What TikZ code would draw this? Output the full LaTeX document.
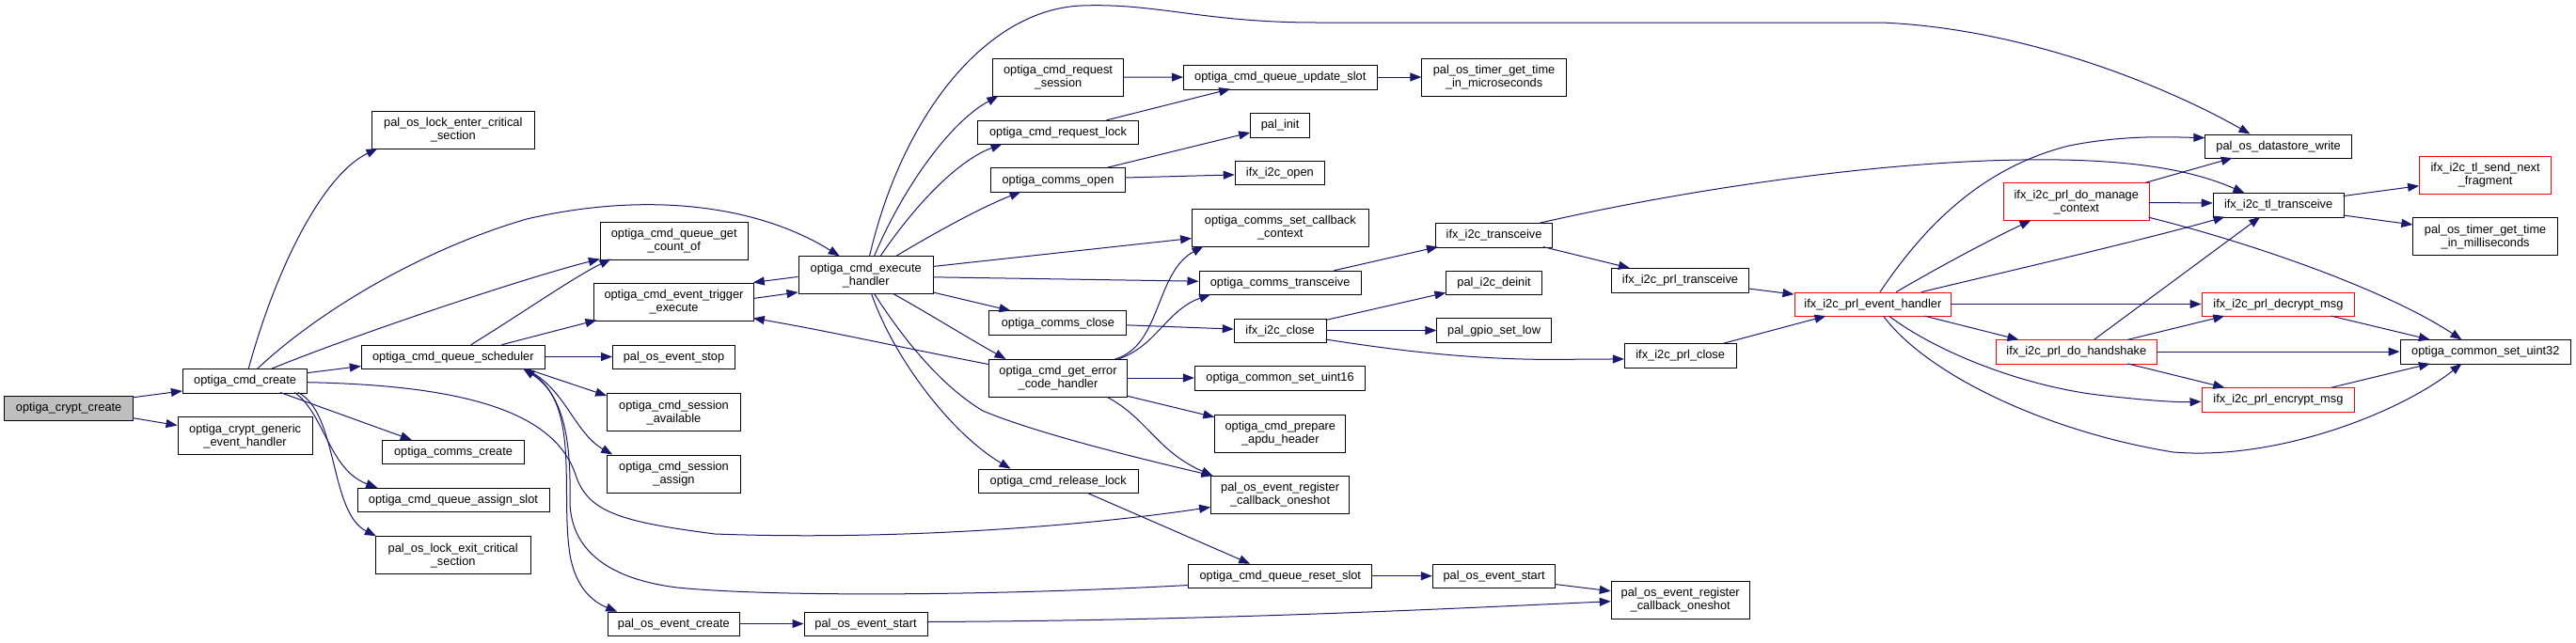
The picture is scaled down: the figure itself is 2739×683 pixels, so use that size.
\documentclass[tikz,border=0pt]{standalone}
\usepackage{fontspec}
\setmainfont{Liberation Sans}
\usetikzlibrary{arrows.meta}
\definecolor{edgec}{HTML}{191970}
\definecolor{grayfill}{HTML}{BFBFBF}
\tikzset{
  box/.style={draw=black, line width=1pt, fill=white, inner sep=0pt, align=center,
    minimum height=25.5pt, font=\fontsize{12.8}{14}\selectfont},
  tall/.style={minimum height=40pt},
  redb/.style={draw=red},
  edge/.style={draw=edgec, line width=1pt, -{Triangle[length=12pt,width=9pt]}}
}
\begin{document}
\begin{tikzpicture}[x=1pt,y=-1pt]
\fill[white] (0,0) rectangle (2739,683);
\useasboundingbox (0,0) rectangle (2739,683);
% nodes
\node[box, fill=grayfill, minimum width=137pt] (a) at (73.1,434.25) {optiga\_crypt\_create};
\node[box, tall, minimum width=143.2pt] (b) at (260.6,463.9) {optiga\_crypt\_generic\\\_event\_handler};
\node[box, minimum width=132.4pt] (c) at (260.6,405.25) {optiga\_cmd\_create};
\node[box, tall, minimum width=173pt] (d) at (481.8,138.5) {pal\_os\_lock\_enter\_critical\\\_section};
\node[box, minimum width=195pt] (e) at (481.8,380) {optiga\_cmd\_queue\_scheduler};
\node[box, minimum width=150.6pt] (f) at (482,481.2) {optiga\_comms\_create};
\node[box, minimum width=204pt] (g) at (482,532) {optiga\_cmd\_queue\_assign\_slot};
\node[box, tall, minimum width=164.7pt] (h) at (481.7,590.7) {pal\_os\_lock\_exit\_critical\\\_section};
\node[box, tall, minimum width=156.7pt] (i) at (716.7,256) {optiga\_cmd\_queue\_get\\\_count\_of};
\node[box, tall, minimum width=169.6pt] (j) at (716.5,321) {optiga\_cmd\_event\_trigger\\\_execute};
\node[box, minimum width=130pt] (k) at (716.5,379.8) {pal\_os\_event\_stop};
\node[box, tall, minimum width=141.6pt] (l) at (716.5,438.7) {optiga\_cmd\_session\\\_available};
\node[box, tall, minimum width=141.6pt] (m) at (716.5,504) {optiga\_cmd\_session\\\_assign};
\node[box, minimum width=140.7pt] (n) at (716.4,663.9) {pal\_os\_event\_create};
\node[box, minimum width=131pt] (o) at (920.5,664) {pal\_os\_event\_start};
\node[box, tall, minimum width=143.3pt] (p) at (920.7,292.9) {optiga\_cmd\_execute\\\_handler};
\node[box, tall, minimum width=139.3pt] (q) at (1125,82.6) {optiga\_cmd\_request\\\_session};
\node[box, minimum width=205.5pt] (r) at (1361.3,82.4) {optiga\_cmd\_queue\_update\_slot};
\node[box, minimum width=170.9pt] (s) at (1125,141.1) {optiga\_cmd\_request\_lock};
\node[box, minimum width=62.8pt] (t) at (1361.1,133.3) {pal\_init};
\node[box, minimum width=143.5pt] (u) at (1125,191.7) {optiga\_comms\_open};
\node[box, minimum width=95.4pt] (v) at (1360.9,183.8) {ifx\_i2c\_open};
\node[box, tall, minimum width=187.4pt] (w) at (1361.3,242.6) {optiga\_comms\_set\_callback\\\_context};
\node[box, minimum width=172.2pt] (x) at (1361.1,301) {optiga\_comms\_transceive};
\node[box, minimum width=145.9pt] (y) at (1124.9,343.7) {optiga\_comms\_close};
\node[box, minimum width=97.8pt] (z) at (1361.1,351.9) {ifx\_i2c\_close};
\node[box, tall, minimum width=146.9pt] (aa) at (1125,402.5) {optiga\_cmd\_get\_error\\\_code\_handler};
\node[box, minimum width=181.4pt] (ab) at (1361.1,402.4) {optiga\_common\_set\_uint16};
\node[box, tall, minimum width=138.9pt] (ac) at (1361.3,461.5) {optiga\_cmd\_prepare\\\_apdu\_header};
\node[box, tall, minimum width=147pt] (ad) at (1361.1,526.6) {pal\_os\_event\_register\\\_callback\_oneshot};
\node[box, minimum width=169.8pt] (ae) at (1125.2,511.9) {optiga\_cmd\_release\_lock};
\node[box, minimum width=195pt] (af) at (1361.3,613) {optiga\_cmd\_queue\_reset\_slot};
\node[box, tall, minimum width=153.4pt] (ag) at (1588.6,82.6) {pal\_os\_timer\_get\_time\\\_in\_microseconds};
\node[box, minimum width=124.4pt] (ah) at (1588.6,250.4) {ifx\_i2c\_transceive};
\node[box, minimum width=101.4pt] (ai) at (1588.6,301) {pal\_i2c\_deinit};
\node[box, minimum width=121.4pt] (aj) at (1588.6,351.7) {pal\_gpio\_set\_low};
\node[box, minimum width=145.9pt] (ak) at (1786.5,298.4) {ifx\_i2c\_prl\_transceive};
\node[box, redb, minimum width=166.8pt] (al) at (1991.4,323.9) {ifx\_i2c\_prl\_event\_handler};
\node[box, minimum width=118.7pt] (am) at (1786.7,378.5) {ifx\_i2c\_prl\_close};
\node[box, minimum width=130.5pt] (an) at (1588.6,613) {pal\_os\_event\_start};
\node[box, tall, minimum width=146.9pt] (ao) at (1786.7,638.5) {pal\_os\_event\_register\\\_callback\_oneshot};
\node[box, minimum width=155.5pt] (ap) at (2422.6,155.8) {pal\_os\_datastore\_write};
\node[box, tall, redb, minimum width=154.7pt] (aq) at (2207.8,214.8) {ifx\_i2c\_prl\_do\_manage\\\_context};
\node[box, minimum width=138.8pt] (ar) at (2422.6,218.5) {ifx\_i2c\_tl\_transceive};
\node[box, tall, redb, minimum width=140pt] (as) at (2642.6,186.4) {ifx\_i2c\_tl\_send\_next\\\_fragment};
\node[box, tall, minimum width=153.5pt] (at) at (2642.6,251.8) {pal\_os\_timer\_get\_time\\\_in\_milliseconds};
\node[box, redb, minimum width=162.7pt] (au) at (2422.4,323.9) {ifx\_i2c\_prl\_decrypt\_msg};
\node[box, redb, minimum width=170.6pt] (av) at (2207.8,374.6) {ifx\_i2c\_prl\_do\_handshake};
\node[box, minimum width=181.6pt] (aw) at (2642.8,374.6) {optiga\_common\_set\_uint32};
\node[box, redb, minimum width=162.7pt] (ax) at (2422.4,425.5) {ifx\_i2c\_prl\_encrypt\_msg};
% edges
\draw[edge] ([shift={(137,1.8)}]a.north west) -- ([shift={(0,23.9)}]c.north west);
\draw[edge] ([shift={(137,23.6)}]a.north west) -- ([shift={(0,9.1)}]b.north west);
\draw[edge] ([shift={(70.4,0)}]c.north west) .. controls (295,280) and (345,185) .. ([shift={(6.7,40)}]d.north west);
\draw[edge] ([shift={(80,0)}]c.north west) .. controls (340,330) and (450,265) .. (560,233) .. controls (680,205) and (800,215) .. ([shift={(44.2,0)}]p.north west);
\draw[edge] ([shift={(95.3,0)}]c.north west) .. controls (380,355) and (560,295) .. ([shift={(0,40)}]i.north west);
\draw[edge] ([shift={(132.4,4.7)}]c.north west) -- ([shift={(0,22.75)}]e.north west);
\draw[edge] ([shift={(104.1,25.5)}]c.north west) -- ([shift={(31.6,0)}]f.north west);
\draw[edge] ([shift={(119.4,25.5)}]c.north west) .. controls (345,440) and (350,500) .. ([shift={(21.7,0)}]g.north west);
\draw[edge] ([shift={(123.2,25.5)}]c.north west) .. controls (360,440) and (350,545) .. ([shift={(1,0)}]h.north west);
\draw[edge] ([shift={(132.4,14.7)}]c.north west) .. controls (500,410) and (590,440) .. (612,505) .. controls (625,545) and (660,555) .. (760,568) .. controls (950,575) and (1150,560) .. ([shift={(0,33.4)}]ad.north west);
\draw[edge] ([shift={(117,0)}]e.north west) .. controls (560,330) and (610,295) .. ([shift={(11.65,40)}]i.north west);
\draw[edge] ([shift={(149.6,0)}]e.north west) -- ([shift={(3.3,40)}]j.north west);
\draw[edge] ([shift={(195,12.75)}]e.north west) -- ([shift={(0,12.95)}]k.north west);
\draw[edge] ([shift={(175.7,25.5)}]e.north west) -- ([shift={(0,2.8)}]l.north west);
\draw[edge] ([shift={(173.7,25.5)}]e.north west) .. controls (600,410) and (610,460) .. ([shift={(6,0)}]m.north west);
\draw[edge] ([shift={(172.7,25.5)}]e.north west) .. controls (620,420) and (595,520) .. (606,590) .. controls (612,625) and (630,640) .. ([shift={(10.65,0)}]n.north west);
\draw[edge] ([shift={(0,22.75)}]af.north west) .. controls (1050,634) and (820,635) .. (720,625) .. controls (640,615) and (605,580) .. (606,530) .. controls (607,470) and (600,420) .. ([shift={(172.4,25.5)}]e.north west);
\draw[edge] ([shift={(140.65,12.85)}]n.north west) -- ([shift={(0,12.75)}]o.north west);
\draw[edge] ([shift={(131,10.75)}]o.north west) .. controls (1300,660) and (1550,647) .. ([shift={(0,21.7)}]ao.north west);
\draw[edge] ([shift={(130.45,21.75)}]an.north west) -- ([shift={(0,10.8)}]ao.north west);
\draw[edge] ([shift={(169.6,17)}]j.north west) -- ([shift={(0,38.5)}]p.north west);
\draw[edge] ([shift={(0,22)}]p.north west) -- ([shift={(169.6,0)}]j.north west);
\draw[edge] ([shift={(0,5.5)}]aa.north west) .. controls (950,368) and (880,352) .. ([shift={(169.6,38)}]j.north west);
\draw[edge] ([shift={(81,0)}]p.north west) .. controls (960,200) and (1010,130) .. ([shift={(6.65,40)}]q.north west);
\draw[edge] ([shift={(87.6,0)}]p.north west) .. controls (975,215) and (1020,170) .. ([shift={(26.45,25.5)}]s.north west);
\draw[edge] ([shift={(104.25,0)}]p.north west) .. controls (990,250) and (1040,222) .. ([shift={(32.75,25.5)}]u.north west);
\draw[edge] ([shift={(76,0)}]p.north west) .. controls (960,120) and (1050,10) .. (1150,6) .. controls (1230,3) and (1280,24) .. (1400,24) -- (2000,24) .. controls (2150,30) and (2300,90) .. ([shift={(48.15,0)}]ap.north west);
\draw[edge] ([shift={(143.25,11.1)}]p.north west) -- ([shift={(0,31.4)}]w.north west);
\draw[edge] ([shift={(143.25,22.4)}]p.north west) -- ([shift={(0,11.45)}]x.north west);
\draw[edge] ([shift={(143.25,38.5)}]p.north west) -- ([shift={(23.05,0)}]y.north west);
\draw[edge] ([shift={(100.95,40)}]p.north west) .. controls (990,335) and (1030,360) .. ([shift={(18.45,0)}]aa.north west);
\draw[edge] ([shift={(81,40)}]p.north west) .. controls (960,360) and (1000,410) .. (1045,437) .. controls (1100,460) and (1200,485) .. ([shift={(2.4,0)}]ad.north west);
\draw[edge] ([shift={(78,40)}]p.north west) .. controls (950,380) and (1010,460) .. ([shift={(34.7,0)}]ae.north west);
\draw[edge] ([shift={(134.45,0)}]aa.north west) .. controls (1235,368) and (1228,290) .. ([shift={(12.4,40)}]w.north west);
\draw[edge] ([shift={(137.85,0)}]aa.north west) .. controls (1230,368) and (1240,330) .. ([shift={(12.6,25.5)}]x.north west);
\draw[edge] ([shift={(146.95,20)}]aa.north west) -- ([shift={(0,12.85)}]ab.north west);
\draw[edge] ([shift={(146.95,39.1)}]aa.north west) -- ([shift={(0,2.7)}]ac.north west);
\draw[edge] ([shift={(125.45,40)}]aa.north west) .. controls (1220,445) and (1230,480) .. ([shift={(2.4,0)}]ad.north west);
\draw[edge] ([shift={(115.7,25.5)}]ae.north west) -- ([shift={(65.9,0)}]af.north west);
\draw[edge] ([shift={(139.35,20)}]q.north west) -- ([shift={(0,12.95)}]r.north west);
\draw[edge] ([shift={(137.45,0)}]s.north west) -- ([shift={(50.15,25.5)}]r.north west);
\draw[edge] ([shift={(205.45,12.85)}]r.north west) -- ([shift={(0,19.9)}]ag.north west);
\draw[edge] ([shift={(123.75,0)}]u.north west) -- ([shift={(0,20.95)}]t.north west);
\draw[edge] ([shift={(143.55,10.55)}]u.north west) -- ([shift={(0,15.35)}]v.north west);
\draw[edge] ([shift={(144,0)}]x.north west) -- ([shift={(3,25.4)}]ah.north west);
\draw[edge] ([shift={(145.85,15.35)}]y.north west) -- ([shift={(0,11.45)}]z.north west);
\draw[edge] ([shift={(97.8,1.85)}]z.north west) -- ([shift={(0,23.55)}]ai.north west);
\draw[edge] ([shift={(97.8,12.85)}]z.north west) -- ([shift={(0,13.05)}]aj.north west);
\draw[edge] ([shift={(97.8,22.35)}]z.north west) .. controls (1480,372) and (1560,382.4) .. (1650,382.4) -- ([shift={(0,16.65)}]am.north west);
\draw[edge] ([shift={(115.2,25.5)}]ah.north west) -- ([shift={(19.85,0)}]ak.north west);
\draw[edge] ([shift={(111.4,0)}]ah.north west) .. controls (1800,200) and (2000,172) .. (2150,170) .. controls (2280,168) and (2340,185) .. ([shift={(33.8,0)}]ar.north west);
\draw[edge] ([shift={(145.85,21.85)}]ak.north west) -- ([shift={(0,2.45)}]al.north west);
\draw[edge] ([shift={(105.65,0)}]am.north west) -- ([shift={(34,25.5)}]al.north west);
\draw[edge] ([shift={(91.4,0)}]al.north west) .. controls (2040,250) and (2100,180) .. (2200,155) .. controls (2260,143) and (2310,146) .. ([shift={(0,3.95)}]ap.north west);
\draw[edge] ([shift={(108.6,0)}]al.north west) .. controls (2060,285) and (2110,258) .. ([shift={(29.55,40)}]aq.north west);
\draw[edge] ([shift={(135.4,0)}]al.north west) .. controls (2150,285) and (2280,255) .. ([shift={(12.8,25.5)}]ar.north west);
\draw[edge] ([shift={(166.8,12.85)}]al.north west) -- ([shift={(0,12.85)}]au.north west);
\draw[edge] ([shift={(139,25.5)}]al.north west) -- ([shift={(24.5,0)}]av.north west);
\draw[edge] ([shift={(101,25.5)}]al.north west) .. controls (2060,375) and (2150,410) .. (2230,420) .. controls (2290,427) and (2320,428) .. ([shift={(0,14.95)}]ax.north west);
\draw[edge] ([shift={(95,25.5)}]al.north west) .. controls (2050,400) and (2180,460) .. (2311,481) .. controls (2420,490) and (2550,440) .. ([shift={(66,25.5)}]aw.north west);
\draw[edge] ([shift={(151.35,0)}]aq.north west) -- ([shift={(29.35,25.5)}]ap.north west);
\draw[edge] ([shift={(154.65,21.2)}]aq.north west) -- ([shift={(0,10.75)}]ar.north west);
\draw[edge] ([shift={(154.65,36.9)}]aq.north west) .. controls (2400,260) and (2540,310) .. ([shift={(66,0)}]aw.north west);
\draw[edge] ([shift={(138.8,3.25)}]ar.north west) -- ([shift={(0,31.8)}]as.north west);
\draw[edge] ([shift={(138.8,23.75)}]ar.north west) -- ([shift={(0,7.7)}]at.north west);
\draw[edge] ([shift={(104.5,0)}]av.north west) -- ([shift={(50.5,25.5)}]ar.north west);
\draw[edge] ([shift={(140.3,0)}]av.north west) -- ([shift={(24.75,25.5)}]au.north west);
\draw[edge] ([shift={(170.6,12.75)}]av.north west) -- ([shift={(0,12.75)}]aw.north west);
\draw[edge] ([shift={(140.3,25.5)}]av.north west) -- ([shift={(24.75,0)}]ax.north west);
\draw[edge] ([shift={(138.25,25.5)}]au.north west) -- ([shift={(32.4,0)}]aw.north west);
\draw[edge] ([shift={(138.25,0)}]ax.north west) -- ([shift={(32.4,25.5)}]aw.north west);
\draw[edge] ([shift={(195,12.95)}]af.north west) -- ([shift={(0,12.95)}]an.north west);
\end{tikzpicture}
\end{document}
